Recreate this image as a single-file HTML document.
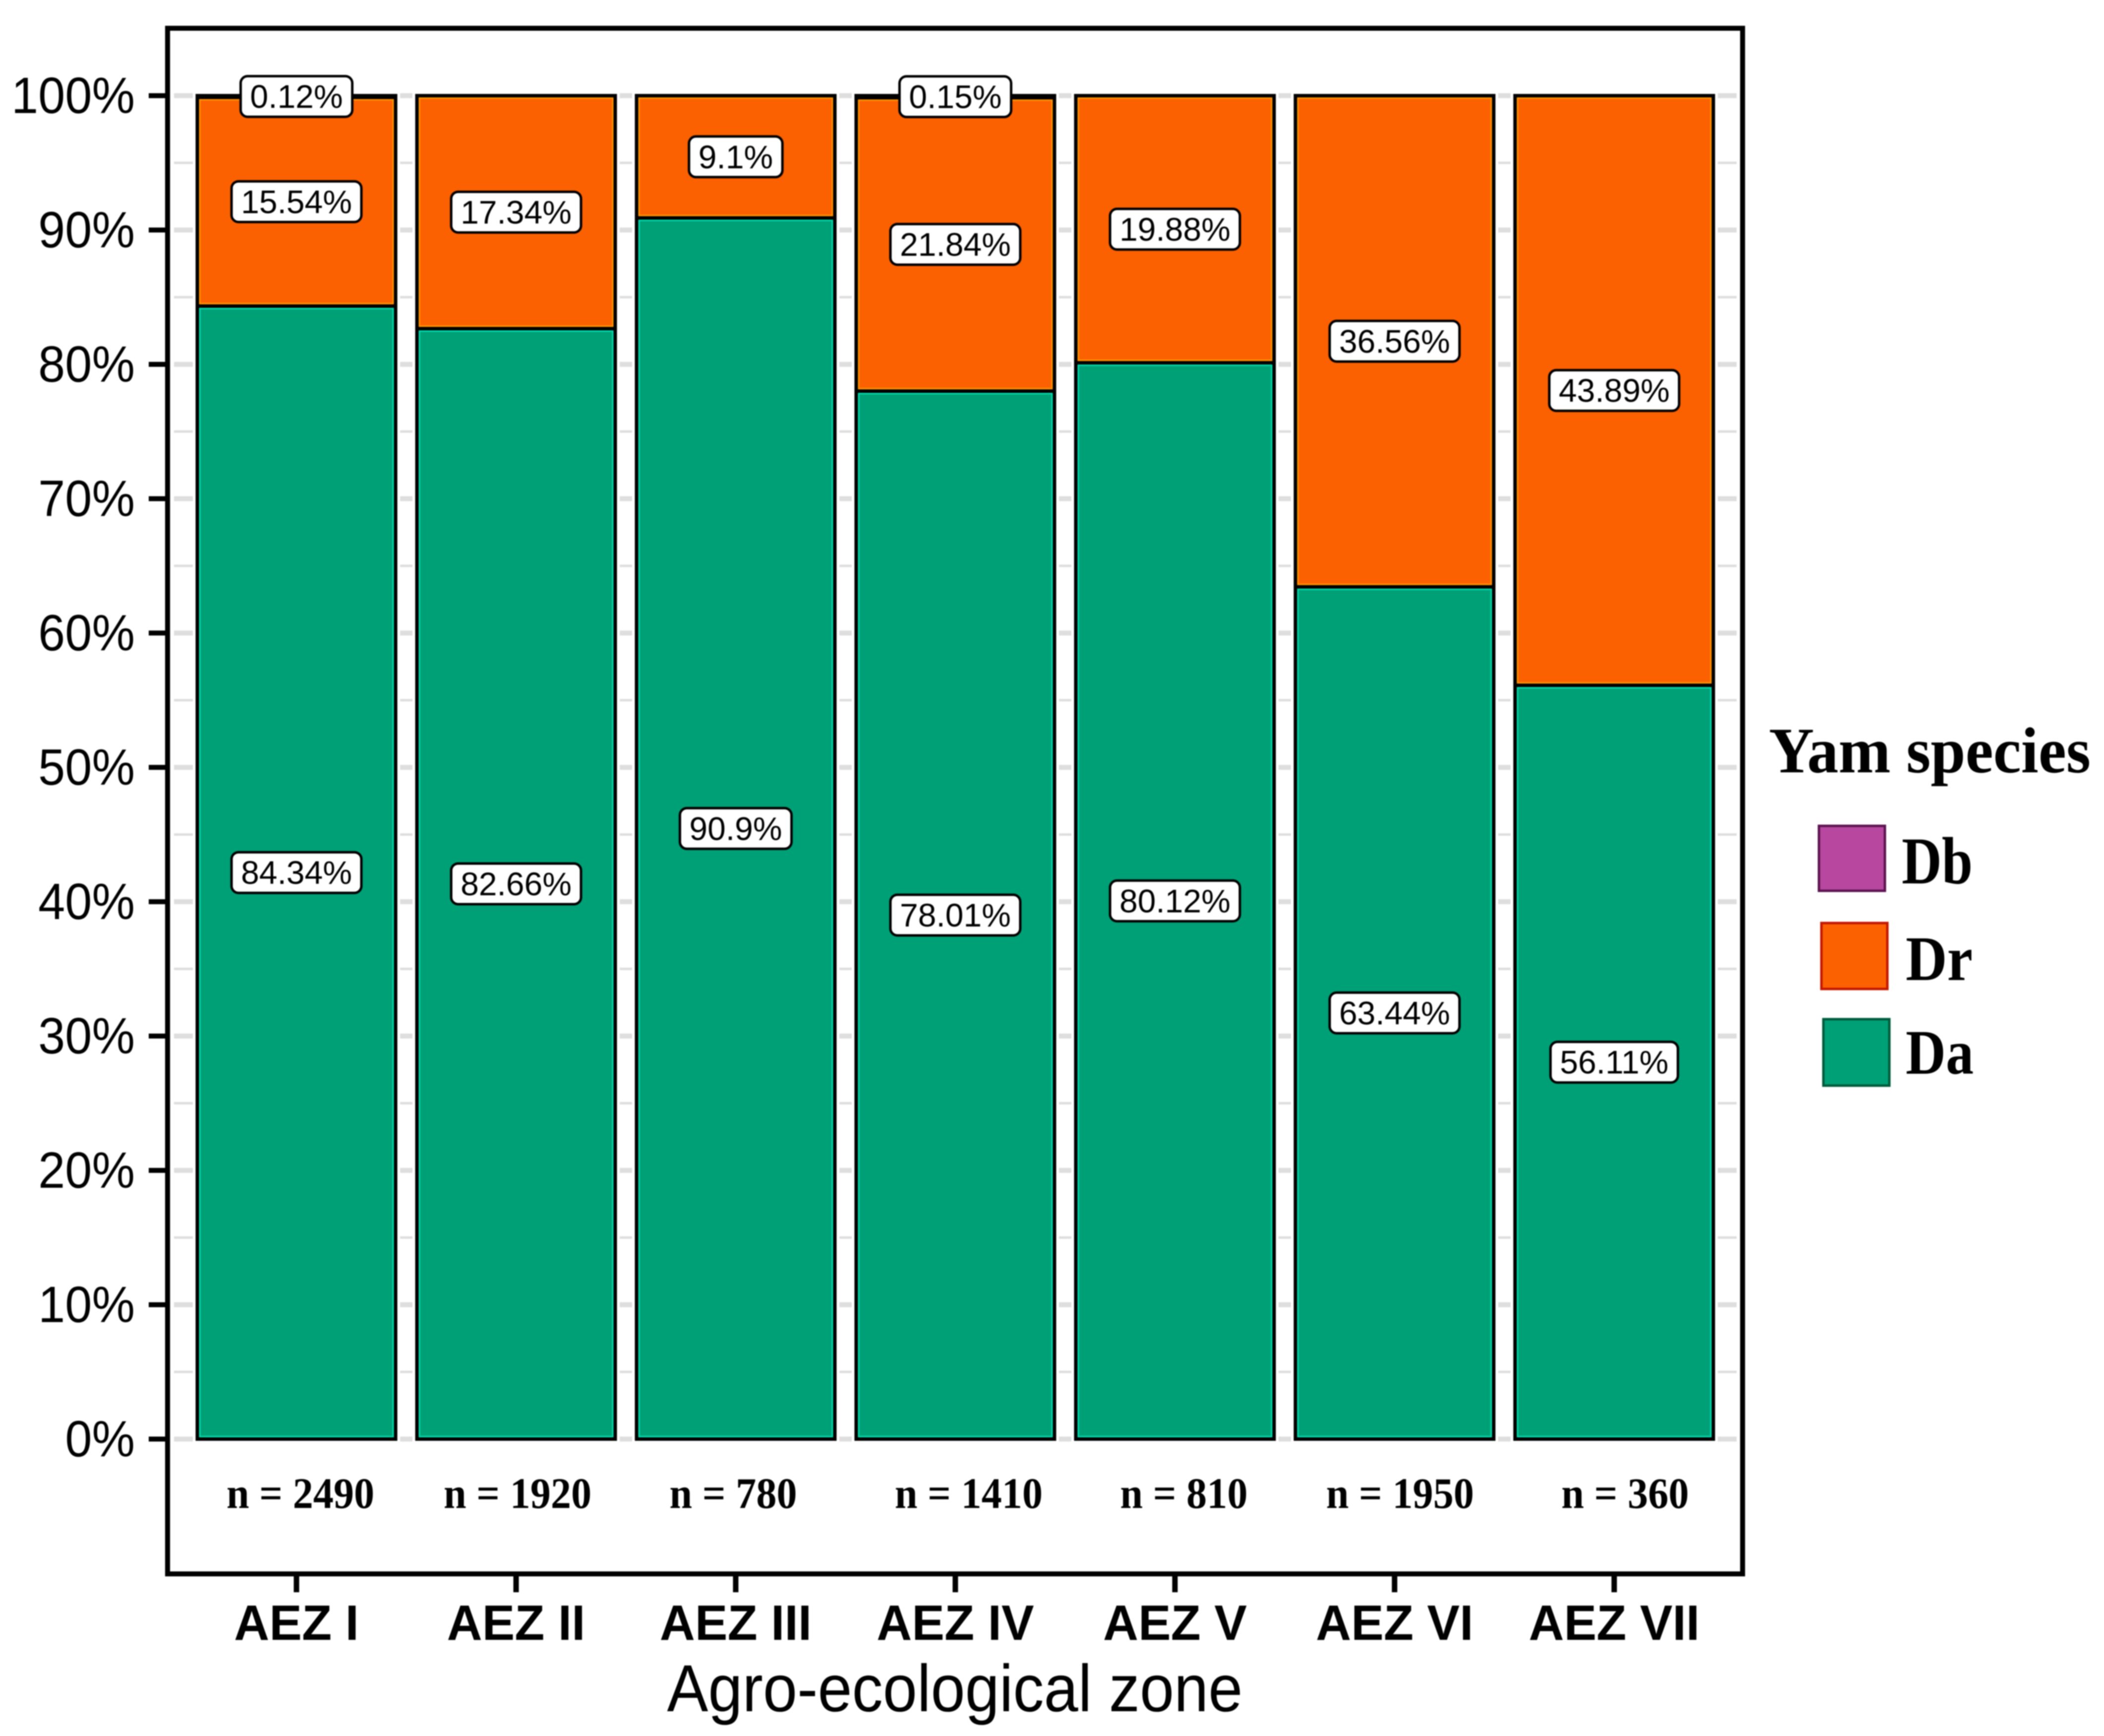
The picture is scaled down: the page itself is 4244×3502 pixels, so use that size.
<!DOCTYPE html>
<html lang="en">
<head>
<meta charset="utf-8">
<title>Yam species by agro-ecological zone</title>
<style>
  html, body { margin: 0; padding: 0; background: #fff; }
  svg { display: block; filter: blur(1px); }
  text { fill: #000; }
  .sans { font-family: "Liberation Sans", Arial, sans-serif; }
  .serif { font-family: "Liberation Serif", "Times New Roman", serif; font-weight: bold; }
</style>
</head>
<body>
<svg id="chart" xmlns="http://www.w3.org/2000/svg" width="4244" height="3502" viewBox="0 0 4244 3502">
  <rect x="0" y="0" width="4244" height="3502" fill="#fff"/>
  <g id="grid"></g>
  <g id="bars"></g>
  <g id="labels"></g>
  <g id="counts"></g>
  <rect x="338" y="57" width="3177" height="3118" fill="none" stroke="#000" stroke-width="10"/>
  <g id="yaxis"></g>
  <g id="xaxis"></g>
  <text class="sans" x="1926" y="3452" font-size="134" text-anchor="middle" textLength="1161" lengthAdjust="spacingAndGlyphs">Agro-ecological zone</text>
  <g>
    <text class="serif" x="3568" y="1558" font-size="131" textLength="649" lengthAdjust="spacingAndGlyphs">Yam species</text>
    <rect x="3669" y="1666" width="133" height="131" fill="#B847A0" stroke="#5C1450" stroke-width="5"/>
    <text class="serif" x="3836" y="1782" font-size="135" textLength="143" lengthAdjust="spacingAndGlyphs">Db</text>
    <rect x="3674" y="1862" width="133" height="133" fill="#FB6100" stroke="#C41800" stroke-width="5"/>
    <text class="serif" x="3844" y="1977" font-size="128" textLength="135" lengthAdjust="spacingAndGlyphs">Dr</text>
    <rect x="3678" y="2056" width="133" height="134" fill="#00A077" stroke="#005C3C" stroke-width="5"/>
    <text class="serif" x="3844" y="2166" font-size="128" textLength="137" lengthAdjust="spacingAndGlyphs">Da</text>
  </g>
</svg>
<script>
const categories = ["AEZ I", "AEZ II", "AEZ III", "AEZ IV", "AEZ V", "AEZ VI", "AEZ VII"];
const daValues = [84.34, 82.66, 90.9, 78.01, 80.12, 63.44, 56.11];
const drValues = [15.54, 17.34, 9.1, 21.84, 19.88, 36.56, 43.89];
const dbValues = [0.12, 0, 0, 0.15, 0, 0, 0];
const sampleSizes = [2490, 1920, 780, 1410, 810, 1950, 360];
const yTicks = [0, 10, 20, 30, 40, 50, 60, 70, 80, 90, 100];
const yMinorTicks = [5, 15, 25, 35, 45, 55, 65, 75, 85, 95];

// layout
const Y0 = 2903, YPER = 27.1;
const BAND0 = 598, BANDSTEP = 443.0, BARW = 400;
const countNudge = [8, 3, -5, 27, 18, 11, 22];
const PLOT_L = 351, PLOT_R = 3503;

const NS = "http://www.w3.org/2000/svg";
function y(v) { return Y0 - v * YPER; }
function x(i) { return BAND0 + i * BANDSTEP; }
function mk(tag, attrs, parent) {
  const el = document.createElementNS(NS, tag);
  for (const k in attrs) el.setAttribute(k, attrs[k]);
  parent.appendChild(el);
  return el;
}
// condense glyphs horizontally so tall text keeps the reference width
function condense(el, ratio) {
  el.setAttribute("textLength", el.getComputedTextLength() * ratio);
  el.setAttribute("lengthAdjust", "spacingAndGlyphs");
}
const gGrid = document.getElementById("grid");
const gBars = document.getElementById("bars");
const gLabels = document.getElementById("labels");
const gCounts = document.getElementById("counts");
const gY = document.getElementById("yaxis");
const gX = document.getElementById("xaxis");

// gridlines
yMinorTicks.forEach(function (t) {
  const el = mk("line", { x1: PLOT_L, x2: PLOT_R, y1: y(t), y2: y(t), stroke: "#dedede", "stroke-width": 5 }, gGrid);
  
  
});
yTicks.forEach(function (t) {
  const el = mk("line", { x1: PLOT_L, x2: PLOT_R, y1: y(t), y2: y(t), stroke: "#dedede", "stroke-width": 10 }, gGrid);
  
  
});

// y axis
yTicks.forEach(function (t) {
  const tick = mk("line", { x1: 300, x2: 334, y1: y(t), y2: y(t), stroke: "#000", "stroke-width": 10 }, gY);
  
  
  const lab = mk("text", { x: 272, y: y(t) + 35, "font-size": 103, "text-anchor": "end", "class": "sans" }, gY);
  lab.textContent = t + "%";
  
  
  condense(lab, 0.945);
});

// stacked bars
function segment(i, lo, hi, fill, edge, name) {
  const left = x(i) - BARW / 2;
  const top = y(hi), bottom = y(lo);
  const rect = mk("rect", { x: left, y: top, width: BARW, height: bottom - top, fill: fill, stroke: "#000", "stroke-width": 7 }, gBars);
  
  
  if (bottom - top > 12) {
    const inner = mk("rect", { x: left + 5, y: top + 5, width: BARW - 10, height: bottom - top - 10, fill: "none", stroke: edge, "stroke-width": 3 }, gBars);
    
    
  }
}
function valueLabel(i, mid, value) {
  const g = mk("g", {}, gLabels);
  
  
  const box = mk("rect", { y: y(mid) - 41, height: 82, rx: 14, ry: 14, fill: "#fff", stroke: "#000", "stroke-width": 5 }, g);
  
  
  const txt = mk("text", { x: x(i), y: y(mid) + 23, "font-size": 66, "text-anchor": "middle", "class": "sans" }, g);
  txt.textContent = value + "%";
  
  
  const w = txt.getComputedTextLength() + 38;
  box.setAttribute("x", x(i) - w / 2);
  box.setAttribute("width", w);
}
categories.forEach(function (cat, i) {
  const da = daValues[i], dr = drValues[i], db = dbValues[i];
  const halo = mk("rect", { x: x(i) - BARW / 2 - 9, y: y(da + dr + db) - 9, width: BARW + 18, height: y(0) - y(da + dr + db) + 18, fill: "#fff" }, gBars);
  
  
  segment(i, 0, da, "#00A077", "#00DDAE", "bar-da");
  segment(i, da, da + dr, "#FB6100", "#FF9400", "bar-dr");
  if (db > 0) segment(i, da + dr, da + dr + db, "#B847A0", "#B847A0", "bar-db");
  valueLabel(i, da / 2, da);
  valueLabel(i, da + dr / 2, dr);
  if (db > 0) valueLabel(i, da + dr + db / 2, db);

  const count = mk("text", { x: x(i) + countNudge[i], y: 3042, "font-size": 88, "text-anchor": "middle", "class": "serif" }, gCounts);
  count.textContent = "n = " + sampleSizes[i];
  
  
  condense(count, 0.935);

  const tick = mk("line", { x1: x(i), x2: x(i), y1: 3178, y2: 3212, stroke: "#000", "stroke-width": 11 }, gX);
  
  
  const lab = mk("text", { x: x(i), y: 3308, "font-size": 100, "font-weight": "bold", "text-anchor": "middle", "class": "sans" }, gX);
  lab.textContent = cat;
  
  
  condense(lab, 0.985);
});
</script>
</body>
</html>
